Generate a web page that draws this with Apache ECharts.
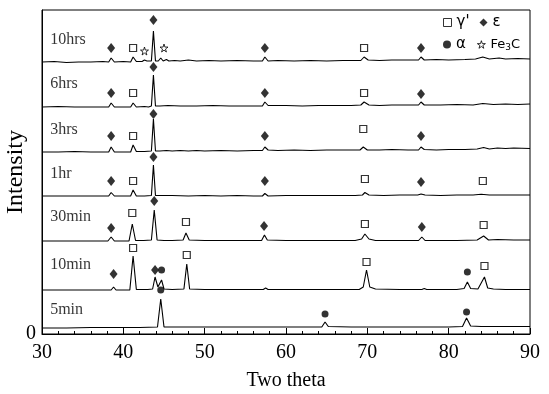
<!DOCTYPE html>
<html><head><meta charset="utf-8">
<script src="https://cdn.jsdelivr.net/npm/echarts@6/dist/echarts.min.js"></script>
<style>html,body{margin:0;padding:0;background:#fff}#c{width:549px;height:394px}</style>
</head><body><div id="c"></div>
<script>
// ---- data (2θ, intensity in arbitrary stacked units) ----
const traceNames = ['10hrs','6hrs','3hrs','1hr','30min','10min','5min'];
const traceBase = [272,227,182,138,93,44,7];

const trace10hrs = [[30,272],[31.5,272.5],[33,271.5],[34.5,272],[36,272],[37.5,272.5],[38.2,272],[38.5,276],[38.9,272],[40,272.5],[40.9,272],[41.2,277],[41.6,272.5],[42.3,272.5],[42.6,274],[42.9,273],[43.45,273],[43.7,303],[43.95,273],[44.3,273],[44.6,276],[44.9,273],[45.3,274.5],[45.6,273],[46.3,273.5],[47,273],[48,274],[49,273],[50.5,273.5],[52,273],[54,273.5],[56,273],[57.1,273],[57.4,277],[57.8,273],[59,273.5],[61,273],[63,273.5],[65,273],[67,273.5],[69.2,273.5],[69.6,277],[70.1,274],[71.5,273.5],[73,274],[75,274],[76.3,274],[76.6,277],[77,274],[78.5,274.5],[80,274],[82,274.5],[83.3,275],[84.2,277],[85,275],[86.2,276],[87,275],[88.5,275.5],[90,275]];
const trace6hrs = [[30,227],[32,227.5],[34,227],[36,227],[38.2,227],[38.5,231],[38.9,227],[40.2,227],[40.9,227],[41.2,231],[41.6,227],[42.6,227.5],[43.1,227],[43.45,228],[43.7,259],[43.95,228],[44.5,228],[45.5,228.5],[47,228],[49,228],[51,228.5],[53,228],[55,228],[57.1,228],[57.4,232],[57.8,228.5],[60,228.5],[62,228],[64,228.5],[66,228.5],[68,228.5],[69.2,229],[69.6,232],[70.2,229],[71.5,228.5],[73,229],[75,229],[76.3,229],[76.6,232],[77,229],[79,229],[81,229.5],[83,229],[84.2,230.5],[85.5,229.5],[87,230],[88.5,229.5],[90,230]];
const trace3hrs = [[30,182],[32,182],[34,182.5],[36,182],[38.2,182],[38.5,187],[38.9,182],[40.2,182],[40.9,182],[41.2,189],[41.6,182.5],[42.6,182.5],[43.45,183],[43.7,215],[43.95,183],[44.5,183],[45.3,183.5],[46,183],[47,183.5],[48,183],[49,183.5],[50,183],[52,183.5],[54,183],[56,183.5],[57.1,183.5],[57.4,187],[57.8,184],[59,183.5],[61,184],[63,183.5],[65,184],[67,184],[69.1,184],[69.5,187],[70,184],[71.5,184],[73,184.5],[75,184],[76.3,184],[76.6,187],[77,184.5],[78.5,184],[80,184.5],[82,184.5],[83.5,185],[84.3,186.5],[85,185],[86,186],[87,185.5],[88,186],[90,185.5]];
const trace1hr = [[30,138],[32,138],[34,138],[36,138],[38.2,138],[38.5,141.5],[38.9,138],[40.2,138],[40.9,138],[41.2,144],[41.6,138],[42.6,138],[43.45,138.5],[43.7,169],[43.95,138.5],[44.5,138.5],[46,138.5],[48,138],[50,138.5],[52,138],[54,138.5],[56,138],[57.1,138],[57.4,140.5],[57.8,138],[60,138.5],[63,138.5],[66,138.5],[68.5,138.5],[69.4,139],[69.7,141.5],[70.2,139],[72,138.5],[74,139],[76.2,139],[76.6,140],[77.1,139],[79,138.5],[81,139],[83,139],[84,139.8],[85,139],[87,139],[90,139]];
const trace30min = [[30,93],[32,93],[34,93],[36,93],[38.1,93],[38.5,97],[38.9,93],[40.7,93],[41.1,110],[41.5,93.5],[42.5,93.5],[43.45,94],[43.8,124],[44.15,94],[45,93.5],[46,93.5],[47.35,94],[47.7,101],[48.1,94],[50,93.5],[52,93.5],[54,93.5],[56,93.5],[57,93.5],[57.35,99],[57.7,94],[60,93.5],[63,93.5],[66,93.5],[68.5,93.5],[69.3,95],[69.7,100],[70.2,95],[71,93.5],[73,93.5],[76.3,93.5],[76.7,97],[77.1,93.5],[79,93.5],[81,93.5],[83.5,94],[84.3,98],[84.9,94],[86,94.5],[88,94],[90,94]];
const trace10min = [[30,44],[32,44],[34,44],[36,44],[38.5,44],[38.8,47],[39.1,44],[40.8,44],[41.2,78],[41.6,44.5],[43,44.5],[43.6,45],[43.9,57],[44.25,47],[44.45,47],[44.7,54],[45,45],[46,44.5],[47.45,45],[47.8,70],[48.15,45],[50,44.5],[53,44.5],[55,44.5],[57.2,44.5],[57.5,46],[57.8,44.5],[60,44.5],[63,44.5],[66,44.5],[69,44.5],[69.5,47],[69.9,64],[70.3,47],[71,45],[74,44.5],[76.7,44.5],[77,45.5],[77.3,44.5],[79,44.5],[81,44.5],[81.9,45.5],[82.3,52],[82.7,45.5],[83.6,45],[84.4,57],[84.8,46],[85.5,45],[87,44.5],[90,44.5]];
const trace5min = [[30,6],[33,6],[36,6.5],[39,6.5],[42,6.5],[44.2,7],[44.6,35],[45,7],[47,7],[50,7],[54,7],[58,7],[62,7],[64.4,7],[64.8,12],[65.2,7.5],[68,7],[72,7],[76,7],[80,7],[81.7,7.5],[82.2,16],[82.7,8],[84,7.5],[87,7.5],[90,7.5]];

// phase markers (2θ, intensity)
const gammaMarks = [[41.2,286],[69.6,286],[41.2,241],[69.6,241],[41.2,198],[69.5,205],[41.2,153],[69.7,155],[84.2,153],[41.1,121],[47.7,112],[69.7,110],[84.3,109],[41.2,86],[47.8,79],[69.9,72],[84.4,68]];
const epsilonMarks = [[38.5,286],[43.7,314],[57.4,286],[76.6,286],[38.5,241],[43.7,267],[57.4,241],[76.6,240],[38.5,198],[43.7,220],[57.4,198],[76.6,198],[38.5,153],[43.7,177],[57.4,153],[76.6,152],[38.5,106],[43.8,133],[57.3,108],[76.7,107],[38.8,60],[43.9,64]];
const alphaMarks = [[44.7,64],[82.3,62],[44.6,44],[64.8,20],[82.2,22]];
const fe3cMarks = [[42.6,283],[45.0,286]];

const xMin = 30, xMax = 90, xStep = 10;
const yMin = 0, yMax = 324;

// ---- layout/style ----
const labelLift = [22,23,22,22,24,25,17];
const traces = [trace10hrs,trace6hrs,trace3hrs,trace1hr,trace30min,trace10min,trace5min];
const serif = 'Liberation Serif';
const starPath = 'path://M50,0 L61,35 L98,35 L68,57 L79,91 L50,70 L21,91 L32,57 L2,35 L39,35 Z';

const series = traces.map((d,i)=>({
  type:'line', name:traceNames[i], data:d, symbol:'none', silent:true,
  lineStyle:{color:'#000', width:1.1}, z:2
}));
series.push({
  type:'scatter', name:'labels', silent:true, symbolSize:0,
  data: traceNames.map((n,i)=>({name:n, value:[xMin+1, traceBase[i]+labelLift[i]]})),
  label:{show:true, position:'right', distance:0, formatter:'{b}', color:'#000', fontFamily:serif, fontSize:16}
});
series.push({type:'scatter', name:"γ'", data:gammaMarks, symbol:'rect', symbolSize:7,
  itemStyle:{color:'#fff', borderColor:'#000', borderWidth:1.2}, z:5});
series.push({type:'scatter', name:'ε', data:epsilonMarks, symbol:'diamond', symbolSize:[8,10],
  itemStyle:{color:'#000'}, z:5});
series.push({type:'scatter', name:'α', data:alphaMarks, symbol:'circle', symbolSize:7,
  itemStyle:{color:'#000'}, z:5});
series.push({type:'scatter', name:'Fe3C', data:fe3cMarks, symbol:starPath, symbolSize:8,
  itemStyle:{color:'#fff', borderColor:'#000', borderWidth:1}, z:5});

const legendText = {color:'#000', fontFamily:'DejaVu Sans', fontSize:15,
  rich:{n:{fontFamily:'DejaVu Sans', fontSize:13, color:'#000'}, s:{fontFamily:'DejaVu Sans', fontSize:9, color:'#000', padding:[6,0,0,0]}}};
const chart = echarts.init(document.getElementById('c'), null, {renderer:'canvas'});
chart.setOption({
  animation:false,
  backgroundColor:'#fff',
  grid:{left:42, right:19, top:10, bottom:60, show:true, borderColor:'#000', borderWidth:1, outerBoundsMode:'none', containLabel:false},
  legend:[
    {data:[{name:"γ'", icon:'rect', itemStyle:{color:'#fff', borderColor:'#000', borderWidth:1}}, {name:'ε', icon:'diamond'}],
     left:438, top:10, itemWidth:8, itemHeight:8, itemGap:10, textStyle:legendText, selectedMode:false},
    {data:[{name:'α', icon:'circle'}, {name:'Fe3C', icon:starPath, itemStyle:{color:'#fff', borderColor:'#000', borderWidth:1}}],
     left:438, top:32, itemWidth:8, itemHeight:8, itemGap:11, textStyle:legendText, selectedMode:false,
     formatter: n => n==='Fe3C' ? '{n|Fe}{s|3}{n|C}' : n}
  ],
  xAxis:{type:'value', min:xMin, max:xMax, interval:xStep,
    name:'Two theta', nameLocation:'middle', nameGap:37, nameMoveOverlap:false,
    nameTextStyle:{color:'#000', fontFamily:serif, fontSize:20},
    axisLine:{lineStyle:{color:'#000', width:1}},
    axisTick:{inside:true, length:6, lineStyle:{color:'#000'}},
    minorTick:{show:true, splitNumber:5, length:3, lineStyle:{color:'#000'}},
    axisLabel:{color:'#000', fontFamily:serif, fontSize:20, margin:9},
    splitLine:{show:false}},
  yAxis:{type:'value', min:yMin, max:yMax, interval:yMax,
    name:'Intensity', nameLocation:'middle', nameGap:14, nameMoveOverlap:false,
    nameTextStyle:{color:'#000', fontFamily:serif, fontSize:24},
    axisLine:{show:true, lineStyle:{color:'#000'}}, axisTick:{show:false},
    axisLabel:{color:'#000', fontFamily:serif, fontSize:20, margin:6, formatter:v=> v===0?'0':''},
    splitLine:{show:false}},
  series:series
});
</script></body></html>
